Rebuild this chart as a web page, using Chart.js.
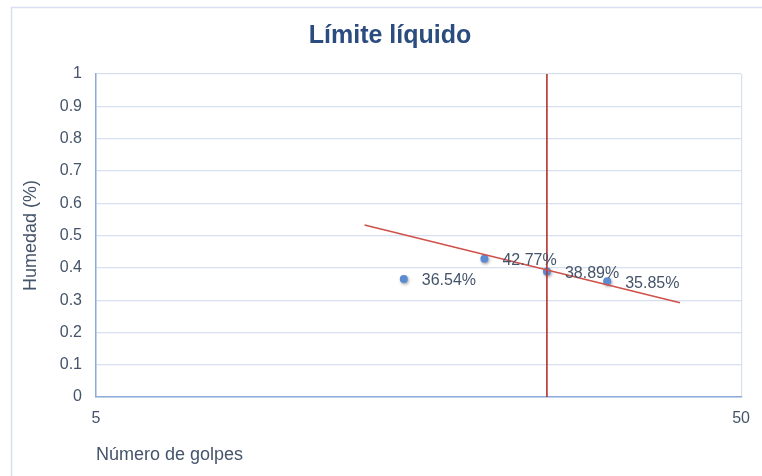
<!DOCTYPE html>
<html>
<head>
<meta charset="utf-8">
<script src="https://cdn.jsdelivr.net/npm/chart.js@4"></script>
<style>
  html, body { margin: 0; padding: 0; background: #ffffff; }
  #wrap { width: 762px; height: 476px; position: relative; }
</style>
</head>
<body>
<div id="wrap"><canvas id="c" width="762" height="476"></canvas></div>
<script>
// ---- data ----
const golpes = [15, 20, 25, 31];
const humedad = [0.3654, 0.4277, 0.3889, 0.3585];
const etiquetas = ['36.54%', '42.77%', '38.89%', '35.85%'];
const trendX = [13.04, 40.2];
const trendY = [0.5325, 0.292];
const refX = 25;
const refY = [0, 1];
const xTickValues = [5, 50];
const yMin = 0, yMax = 1, yStep = 0.1;

const FONT = "'Liberation Sans', Arial, sans-serif";
const TXT = '#44546A';
const GRID = '#D6E0F0';
const AXIS = '#8EA9DB';

const framePlugin = {
  id: 'frame',
  afterLayout(chart) {
    const tb = chart.titleBlock;
    if (tb) { tb.left = 38; tb.right = 742; }
  },
  beforeDraw(chart) {
    const ctx = chart.ctx;
    ctx.save();
    ctx.fillStyle = '#ffffff';
    ctx.fillRect(0, 0, chart.width, chart.height);
    ctx.strokeStyle = GRID;
    ctx.lineWidth = 1.5;
    ctx.beginPath();
    ctx.moveTo(11.5, chart.height + 5);
    ctx.lineTo(11.5, 7.5);
    ctx.lineTo(chart.width + 5, 7.5);
    ctx.stroke();
    ctx.restore();
  }
};

const shadowPlugin = {
  id: 'dotShadow',
  beforeDatasetDraw(chart, args) {
    if (args.index === 2) {
      const ctx = chart.ctx;
      ctx.save();
      ctx.shadowColor = 'rgba(0,0,0,0.35)';
      ctx.shadowBlur = 3;
      ctx.shadowOffsetX = 1;
      ctx.shadowOffsetY = 1.5;
    }
  },
  afterDatasetDraw(chart, args) {
    if (args.index === 2) chart.ctx.restore();
  }
};

const labelPlugin = {
  id: 'pointLabels',
  afterDatasetsDraw(chart) {
    const meta = chart.getDatasetMeta(2);
    const ctx = chart.ctx;
    ctx.save();
    ctx.font = '16px ' + FONT;
    ctx.fillStyle = TXT;
    ctx.textAlign = 'left';
    ctx.textBaseline = 'middle';
    meta.data.forEach((pt, i) => {
      ctx.fillText(etiquetas[i], pt.x + 18, pt.y + 2);
    });
    ctx.restore();
  }
};

new Chart(document.getElementById('c'), {
  type: 'scatter',
  data: {
    datasets: [
      {
        label: 'Tendencia',
        type: 'line',
        data: trendX.map((x, i) => ({ x: x, y: trendY[i] })),
        borderColor: '#D0504A',
        borderWidth: 1.5,
        pointRadius: 0,
        fill: false,
        showLine: true
      },
      {
        label: '25 golpes',
        type: 'line',
        data: refY.map(y => ({ x: refX, y: y })),
        borderColor: '#B5312C',
        borderWidth: 1.6,
        pointRadius: 0,
        fill: false,
        showLine: true
      },
      {
        label: 'Humedad',
        data: golpes.map((x, i) => ({ x: x, y: humedad[i] })),
        backgroundColor: '#5B8BD2',
        borderColor: '#5B8BD2',
        borderWidth: 0,
        pointRadius: 4
      }
    ]
  },
  options: {
    responsive: false,
    animation: false,
    devicePixelRatio: 1,
    layout: { padding: { left: 0, right: 20, top: 0, bottom: 0 } },
    plugins: {
      legend: { display: false },
      tooltip: { enabled: false },
      title: {
        display: true,
        text: 'Límite líquido',
        color: '#2B4C7E',
        font: { family: FONT, size: 25, weight: 'bold' },
        padding: { top: 21, bottom: 23 }
      }
    },
    scales: {
      x: {
        type: 'logarithmic',
        min: 5,
        max: 50,
        afterBuildTicks(scale) {
          scale.ticks = xTickValues.map(v => ({ value: v }));
        },
        afterFit(scale) { scale.height = 79; },
        ticks: {
          color: TXT,
          font: { family: FONT, size: 16 },
          padding: 12,
          maxRotation: 0,
          autoSkip: false,
          callback: (v) => String(v)
        },
        grid: { color: GRID, lineWidth: 1.2, drawTicks: false },
        border: { display: true, color: AXIS, width: 1.5 },
        title: {
          display: true,
          text: 'Número de golpes',
          align: 'start',
          color: TXT,
          font: { family: FONT, size: 18 },
          padding: { top: 15, bottom: 10 }
        }
      },
      y: {
        min: yMin,
        max: yMax,
        afterFit(scale) { scale.width = 96; },
        ticks: {
          stepSize: yStep,
          color: TXT,
          font: { family: FONT, size: 16 },
          padding: 14,
          callback: (v) => String(Number(v.toFixed(1)))
        },
        grid: { color: GRID, lineWidth: 1.2, drawTicks: false },
        border: { display: true, color: AXIS, width: 1.5 },
        title: {
          display: true,
          text: 'Humedad (%)',
          color: TXT,
          font: { family: FONT, size: 18 },
          padding: { top: 20, bottom: 0 }
        }
      }
    }
  },
  plugins: [framePlugin, shadowPlugin, labelPlugin]
});
</script>
</body>
</html>
